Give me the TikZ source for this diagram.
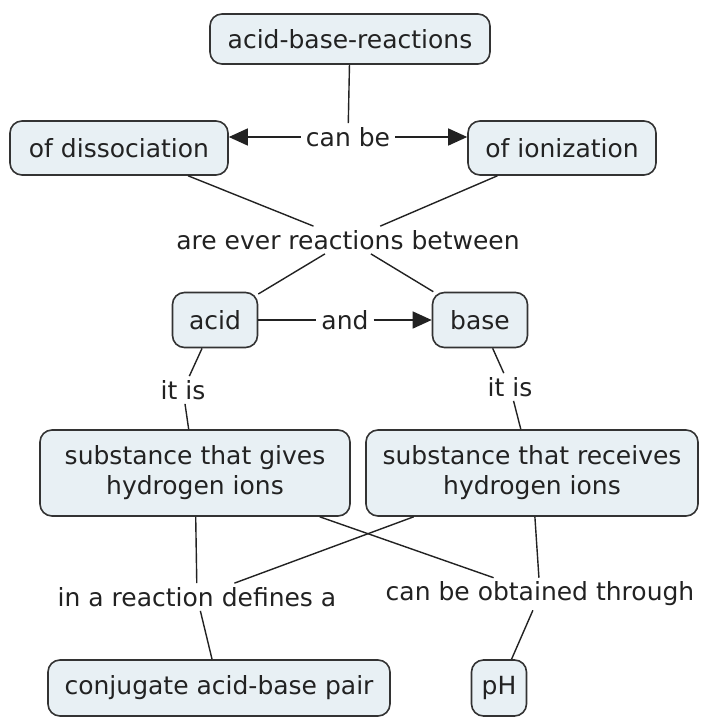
\documentclass[tikz,border=0pt]{standalone}
\usepackage{fontspec}
\setmainfont{DejaVu Sans}
\usetikzlibrary{arrows.meta}
\definecolor{boxfill}{HTML}{E8F0F4}
\definecolor{boxdraw}{HTML}{333333}
\definecolor{txt}{HTML}{222222}
\definecolor{ln}{HTML}{222222}
\begin{document}
\begin{tikzpicture}[x=1pt,y=-1pt,
  concept/.style={draw=boxdraw, fill=boxfill, line width=1.6pt, rounded corners=12pt,
    inner sep=0pt, align=center, text=txt, font=\fontsize{25}{30}\selectfont},
  linklabel/.style={fill=white, inner xsep=5pt, inner ysep=4pt, text=txt, font=\fontsize{25}{30}\selectfont},
  conn/.style={draw=ln, line width=1.4pt},
  arr/.style={conn, -{Triangle[length=19pt,width=17pt]}}]
\useasboundingbox[fill=white] (0,0) rectangle (701,718);
% concepts
\node[concept, minimum width=280, minimum height=50] (abr) at (350,39) {acid-base-reactions};
\node[concept, minimum width=218, minimum height=54] (dis) at (119,148) {of dissociation};
\node[concept, minimum width=188, minimum height=54] (ion) at (562,148) {of ionization};
\node[concept, minimum width=85, minimum height=55] (acid) at (215,320) {acid};
\node[concept, minimum width=95, minimum height=55] (base) at (480,320) {base};
\node[concept, minimum width=310, minimum height=86] (gives) at (195,473) {substance that gives\\hydrogen ions};
\node[concept, minimum width=332, minimum height=86] (recv) at (532,473) {substance that receives\\hydrogen ions};
\node[concept, minimum width=342, minimum height=56] (conj) at (219,688) {conjugate acid-base pair};
\node[concept, minimum width=55, minimum height=56] (ph) at (499,688) {pH};
% link labels
\node[linklabel] (canbe) at (348,137) {can be};
\node[linklabel] (ever) at (348,240) {are ever reactions between};
\node[linklabel] (and) at (345,320) {and};
\node[linklabel] (itis1) at (183,390) {it is};
\node[linklabel] (itis2) at (510,387) {it is};
\node[linklabel] (reac) at (197,597) {in a reaction defines a};
\node[linklabel] (obt) at (540,594) {can be obtained through};
% connectors
\draw[conn] (abr) -- (canbe);
\draw[arr] (canbe.west) -- (dis.east |- canbe.west);
\draw[arr] (canbe.east) -- (ion.west |- canbe.east);
\draw[conn] (dis) -- (ever);
\draw[conn] (ion) -- (ever);
\draw[conn] (ever) -- (acid);
\draw[conn] (ever) -- (base);
\draw[conn] (acid) -- (and);
\draw[arr] (and) -- (base);
\draw[conn] (acid) -- (itis1);
\draw[conn] (itis1) -- (gives);
\draw[conn] (base) -- (itis2);
\draw[conn] (itis2) -- (recv);
\draw[conn] (gives) -- (reac);
\draw[conn] (recv) -- (reac);
\draw[conn] (gives) -- (obt);
\draw[conn] (recv) -- (obt);
\draw[conn] (reac) -- (conj);
\draw[conn] (obt) -- (ph);
\end{tikzpicture}
\end{document}
